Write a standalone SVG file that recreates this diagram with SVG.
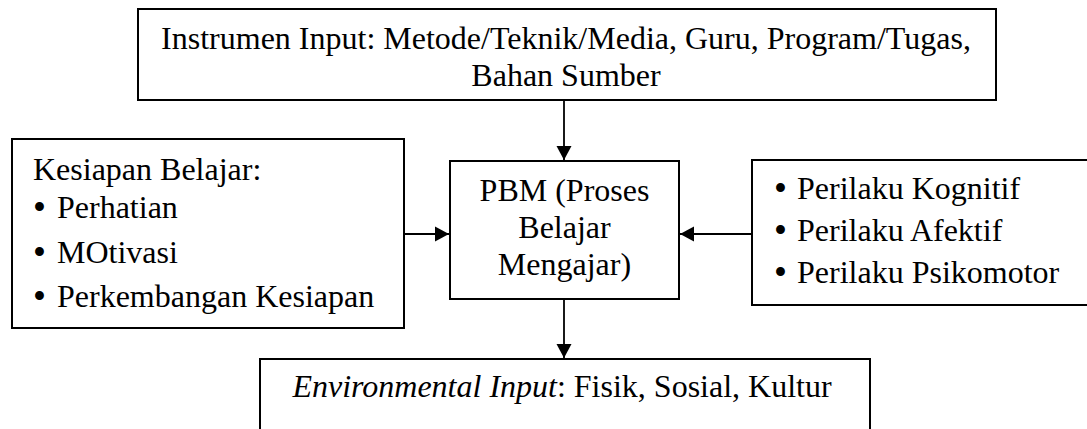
<svg xmlns="http://www.w3.org/2000/svg" width="1087" height="429" viewBox="0 0 1087 429" font-family="'Liberation Serif', 'Times New Roman', 'DejaVu Serif', serif">
  <style>
    .box { fill: #ffffff; stroke: #000000; stroke-width: 2; }
    .link { fill: none; stroke: #000000; stroke-width: 1.8; }
    .t { font-family: 'Liberation Serif', 'Times New Roman', 'DejaVu Serif', serif; font-size: 32px; fill: #000000; }
    .b { font-size: 37px; }
    .mid { text-anchor: middle; }
    .it { font-style: italic; }
  </style>
  <defs>
    <marker id="arrow" markerUnits="userSpaceOnUse" markerWidth="15" markerHeight="16" refX="14" refY="8" orient="auto">
      <path d="M0,0.5 L14,8 L0,15.5 Z" fill="#000000"/>
    </marker>
  </defs>

  <rect width="1087" height="429" fill="#ffffff"/>

  <!-- connectors -->
  <g id="connectors">
    <line class="link" x1="564" y1="100" x2="564" y2="160" marker-end="url(#arrow)"/>
    <line class="link" x1="404" y1="234" x2="449" y2="234" marker-end="url(#arrow)"/>
    <line class="link" x1="752" y1="234" x2="680" y2="234" marker-end="url(#arrow)"/>
    <line class="link" x1="564" y1="299" x2="564" y2="358" marker-end="url(#arrow)"/>
  </g>

  <!-- input instruments -->
  <g id="instrumen-input">
    <rect class="box" x="138" y="9" width="858" height="91"/>
    <text class="t mid" x="566" y="49">Instrumen Input: Metode/Teknik/Media, Guru, Program/Tugas,</text>
    <text class="t mid" x="566" y="86">Bahan Sumber</text>
  </g>

  <!-- learning readiness -->
  <g id="kesiapan-belajar">
    <rect class="box" x="12" y="139" width="392" height="189"/>
    <text class="t" x="33" y="180">Kesiapan Belajar:</text>
    <text class="t b" x="33" y="220">•</text>
    <text class="t" x="57" y="218">Perhatian</text>
    <text class="t b" x="33" y="265">•</text>
    <text class="t" x="57" y="263">MOtivasi</text>
    <text class="t b" x="33" y="309">•</text>
    <text class="t" x="57" y="307">Perkembangan Kesiapan</text>
  </g>

  <!-- teaching-learning process -->
  <g id="pbm">
    <rect class="box" x="450" y="161" width="229" height="138"/>
    <text class="t mid" x="564.5" y="201">PBM (Proses</text>
    <text class="t mid" x="564.5" y="238">Belajar</text>
    <text class="t mid" x="564.5" y="275">Mengajar)</text>
  </g>

  <!-- behaviours -->
  <g id="perilaku">
    <rect class="box" x="752" y="160" width="340" height="145"/>
    <text class="t b" x="774" y="201">•</text>
    <text class="t" x="797" y="199">Perilaku Kognitif</text>
    <text class="t b" x="774" y="243">•</text>
    <text class="t" x="797" y="241">Perilaku Afektif</text>
    <text class="t b" x="774" y="285">•</text>
    <text class="t" x="797" y="283">Perilaku Psikomotor</text>
  </g>

  <!-- environmental input -->
  <g id="environmental-input">
    <rect class="box" x="260" y="359" width="610" height="80"/>
    <text class="t mid" x="562" y="397"><tspan class="it">Environmental Input</tspan>: Fisik, Sosial, Kultur</text>
  </g>
</svg>
